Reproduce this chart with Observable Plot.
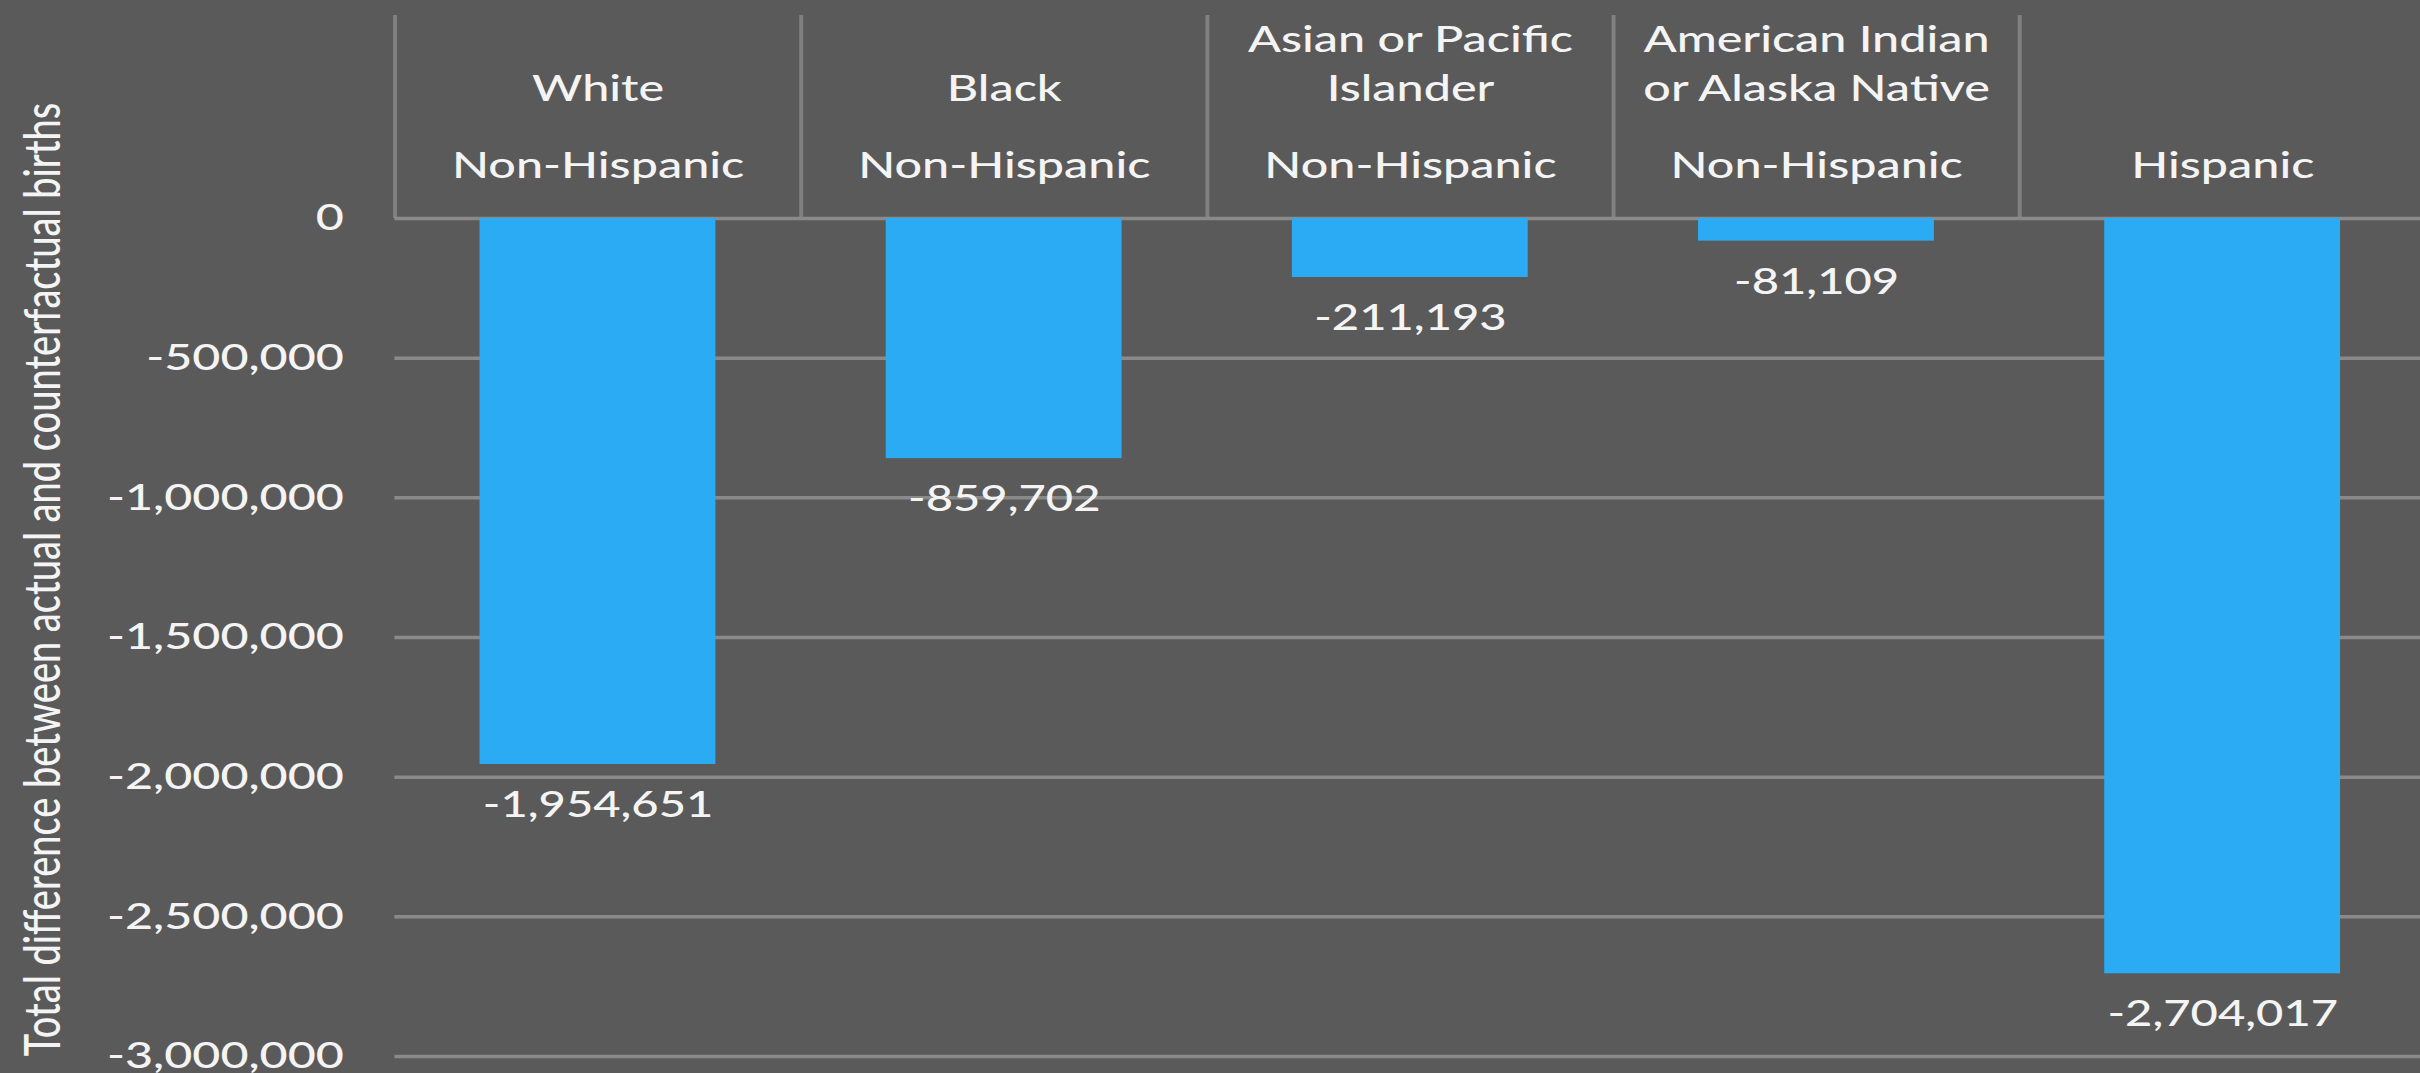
<!DOCTYPE html>
<html>
<head>
<meta charset="utf-8">
<script src="https://cdn.jsdelivr.net/npm/d3@7"></script>
<script src="https://cdn.jsdelivr.net/npm/@observablehq/plot@0.6"></script>
<style>
  html, body { margin: 0; padding: 0; background: #5a5a5a; overflow: hidden; }
  #chart svg { display: block; }
</style>
</head>
<body>
<div id="chart"></div>
<script>
// ---- Data ----
const groups = ["White", "Black", "Asian or Pacific Islander", "American Indian or Alaska Native", "Hispanic"];
const raceLabels = ["White", "Black", "Asian or Pacific\nIslander", "American Indian\nor Alaska Native", ""];
const ethnicityLabels = ["Non-Hispanic", "Non-Hispanic", "Non-Hispanic", "Non-Hispanic", "Hispanic"];
const values = [-1954651, -859702, -211193, -81109, -2704017];
const yTicks = [0, -500000, -1000000, -1500000, -2000000, -2500000, -3000000];
const yTitle = "Total difference between actual and counterfactual births";

// ---- Layout / style ----
const FULL_W = 2420;
const W = 1847;                 // drawing width before horizontal stretch
const ML = 301, MR = -4;
const step = (W - ML - MR) / groups.length;
const HEADER_H = 218, MAIN_H = 1073 - HEADER_H;
const bg = "#5a5a5a", gridColor = "#8a8a8a", sepColor = "#808080";
const barColor = "#2aabf3", textColor = "#f4f4f4";

const fmt = d3.formatLocale({decimal: ".", thousands: ",", grouping: [3], currency: ["", ""], minus: "-"}).format(",");

const style = {
  background: bg,
  color: textColor,
  fontFamily: "Lato, 'Open Sans', sans-serif",
  fontSize: "37px",
  fontWeight: 500,
  overflow: "visible"
};
const xScale = {type: "band", domain: groups, paddingInner: 0, paddingOuter: 0, axis: null};

const header = Plot.plot({
  width: W, height: HEADER_H,
  marginTop: 15, marginBottom: 0, marginLeft: ML, marginRight: MR,
  x: xScale,
  style,
  marks: [
    Plot.ruleX(groups, {x: d => d, dx: -step / 2, stroke: sepColor, strokeWidth: 3}),
    Plot.text(groups, {
      x: d => d, text: (d, i) => raceLabels[i],
      frameAnchor: "top", lineAnchor: "bottom", dy: 85, lineHeight: 1.32,
      fill: textColor, fontSize: 37
    }),
    Plot.text(groups, {
      x: d => d, text: (d, i) => ethnicityLabels[i],
      frameAnchor: "top", lineAnchor: "bottom", dy: 162,
      fill: textColor, fontSize: 37
    })
  ]
});

const main = Plot.plot({
  width: W, height: MAIN_H,
  marginTop: 0, marginBottom: 17, marginLeft: ML, marginRight: MR,
  x: xScale,
  y: {domain: [-3000000, 0], ticks: yTicks, tickSize: 0, tickPadding: 39, tickFormat: fmt, label: null},
  style,
  marks: [
    Plot.ruleY(yTicks, {stroke: gridColor, strokeWidth: 3.5}),
    Plot.barY(groups, {x: d => d, y: (d, i) => values[i], fill: barColor, insetLeft: 65, insetRight: 65}),
    Plot.text(groups, {
      x: d => d, y: (d, i) => values[i], text: (d, i) => fmt(values[i]),
      dy: 41, fill: textColor, fontSize: 36
    }),
    Plot.text([yTitle], {
      text: d => d, frameAnchor: "left", textAnchor: "middle", rotate: -90,
      dx: -268, dy: -58, fill: textColor, fontSize: 38
    })
  ]
});

const chart = document.getElementById("chart");
for (const [svg, h] of [[header, HEADER_H], [main, MAIN_H]]) {
  svg.setAttribute("width", FULL_W);
  svg.setAttribute("height", h);
  svg.setAttribute("preserveAspectRatio", "none");
  svg.style.width = FULL_W + "px";
  svg.style.height = h + "px";
  svg.style.maxWidth = "none";
  chart.appendChild(svg);
}
</script>
</body>
</html>
